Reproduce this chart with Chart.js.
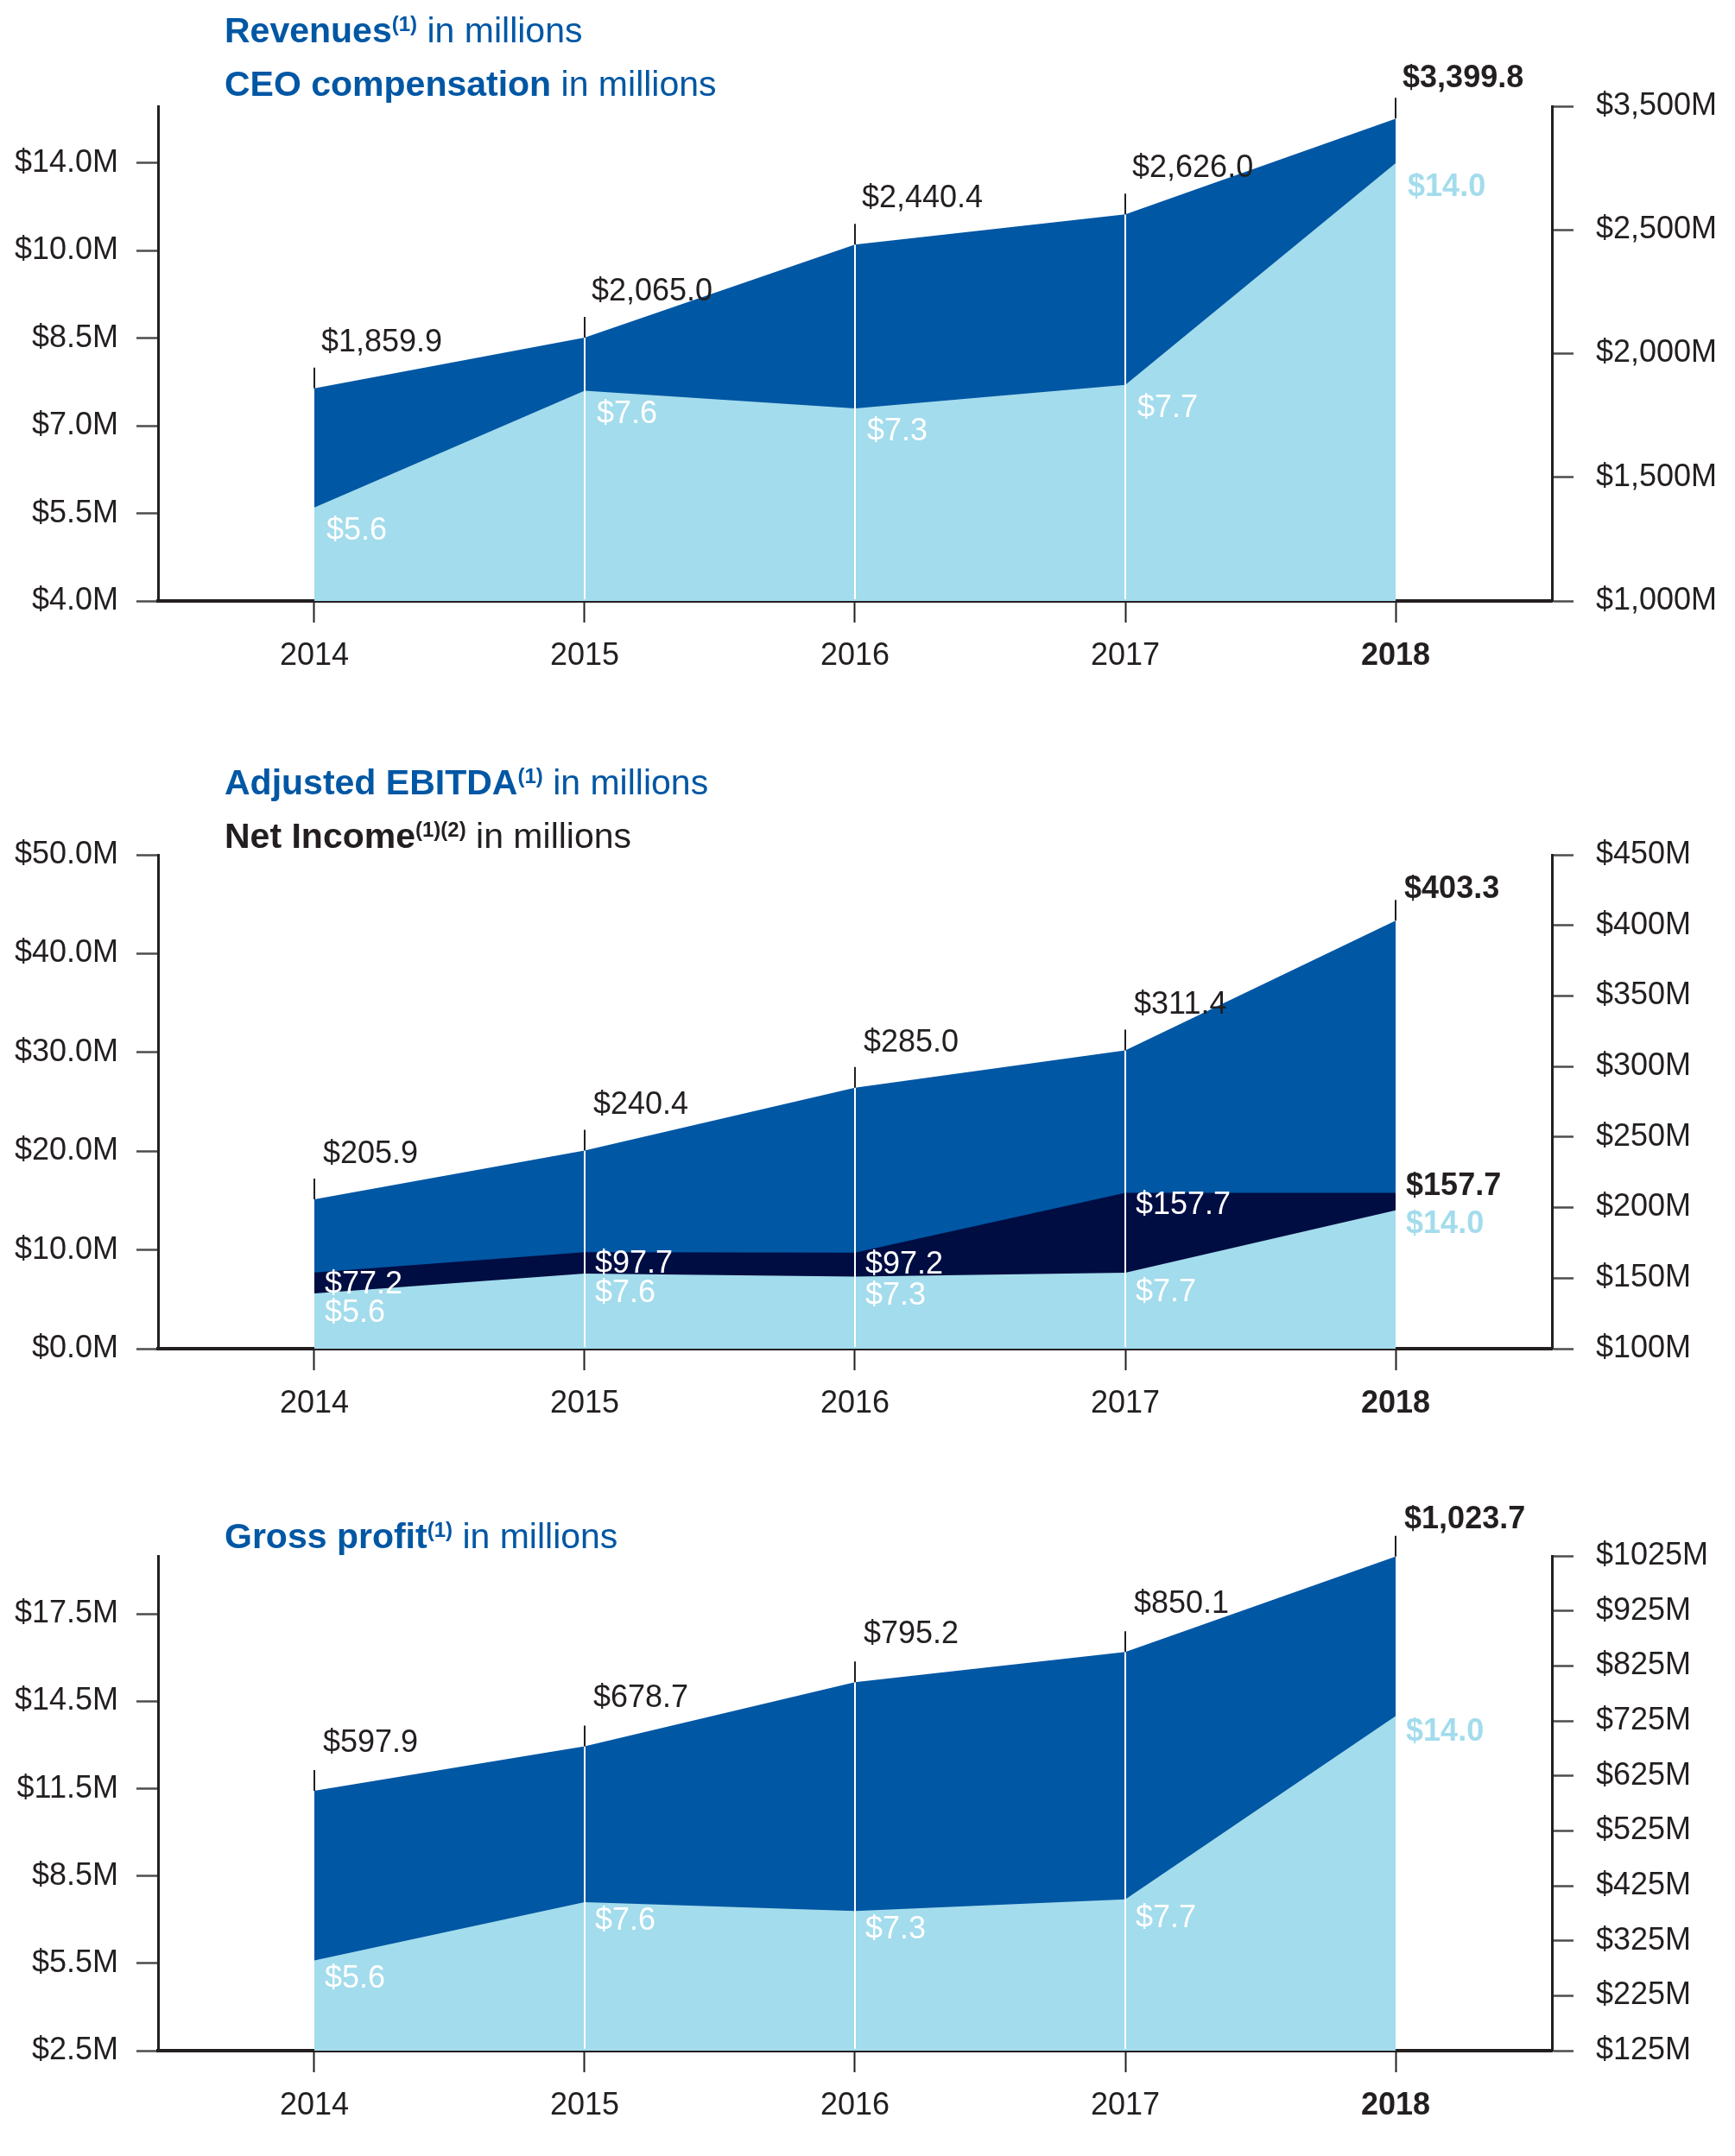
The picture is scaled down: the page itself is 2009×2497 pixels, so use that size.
<!DOCTYPE html>
<html><head><meta charset="utf-8">
<script src="https://cdn.jsdelivr.net/npm/chart.js@4.4.1/dist/chart.umd.min.js"></script>
<style>
html,body{margin:0;padding:0;background:#fff;}
#wrap{position:relative;width:2009px;height:2497px;overflow:hidden;font-family:'Liberation Sans',Arial,sans-serif;}
canvas{position:absolute;left:0;}
.title{position:absolute;left:260px;font-size:41px;line-height:41px;white-space:nowrap;color:#0057a4;z-index:2;}
.title b{font-weight:bold;}
.title sup{font-size:24px;font-weight:bold;vertical-align:baseline;position:relative;top:-13px;line-height:0;}
.dark{color:#231f20;}
</style></head>
<body><div id="wrap">
<canvas id="c1" width="2009" height="840" style="top:0"></canvas>
<canvas id="c2" width="2009" height="850" style="top:840px"></canvas>
<canvas id="c3" width="2009" height="807" style="top:1690px"></canvas>
<div class="title" style="top:15px"><b>Revenues</b><sup>(1)</sup> in millions</div>
<div class="title" style="top:77px"><b>CEO compensation</b> in millions</div>
<div class="title" style="top:886px"><b>Adjusted EBITDA</b><sup>(1)</sup> in millions</div>
<div class="title dark" style="top:948px"><b>Net Income</b><sup>(1)(2)</sup> in millions</div>
<div class="title" style="top:1759px"><b>Gross profit</b><sup>(1)</sup> in millions</div>
</div>
<script>
// ---------- DATA ----------
const years = ['2014', '2015', '2016', '2017', '2018'];
const revenue = [1859.9, 2065.0, 2440.4, 2626.0, 3399.8];
const ceoComp = [5.6, 7.6, 7.3, 7.7, 14.0];
const adjEbitda = [205.9, 240.4, 285.0, 311.4, 403.3];
const netIncome = [77.2, 97.7, 97.2, 157.7, 157.7];
const grossProfit = [597.9, 678.7, 795.2, 850.1, 1023.7];

const revLeftTicks = [4.0, 5.5, 7.0, 8.5, 10.0, 14.0];
const revRightTicks = [1000, 1500, 2000, 2500, 3500];
const ebitdaLeftTicks = [0, 10, 20, 30, 40, 50];
const ebitdaRightTicks = [100, 150, 200, 250, 300, 350, 400, 450];
const gpLeftTicks = [2.5, 5.5, 8.5, 11.5, 14.5, 17.5];
const gpRightTicks = [125, 225, 325, 425, 525, 625, 725, 825, 925, 1025];

// ---------- STYLE ----------
const C_DARKBLUE = '#0057a4';
const C_LIGHT = '#a3dcec';
const C_NAVY = '#000d42';
const C_TEXT = '#231f20';
const FONT = "'Liberation Sans', Arial, sans-serif";
Chart.defaults.font.family = FONT;

// piecewise scale for the unevenly labelled axes of the first chart
const PIECES = {
  yL: {breaks: revLeftTicks, span: 5.65},
  yR: {breaks: revRightTicks, span: 4}
};
class PiecewiseScale extends Chart.LinearScale {
  _toT(v) {
    const b = PIECES[this.id].breaks;
    if (v <= b[0]) return (v - b[0]) / (b[1] - b[0]);
    for (let i = 1; i < b.length; i++) {
      if (v <= b[i]) return i - 1 + (v - b[i - 1]) / (b[i] - b[i - 1]);
    }
    const n = b.length - 1;
    return n + (v - b[n]) / (b[n] - b[n - 1]);
  }
  _fromT(t) {
    const b = PIECES[this.id].breaks;
    const n = b.length - 1;
    if (t <= 0) return b[0] + t * (b[1] - b[0]);
    if (t >= n) return b[n] + (t - n) * (b[n] - b[n - 1]);
    const i = Math.floor(t);
    return b[i] + (t - i) * (b[i + 1] - b[i]);
  }
  getPixelForValue(v) {
    if (v === null || v === undefined || isNaN(v)) return NaN;
    return this.getPixelForDecimal(this._toT(v) / PIECES[this.id].span);
  }
  getValueForPixel(px) {
    return this._fromT(this.getDecimalForPixel(px) * PIECES[this.id].span);
  }
}
PiecewiseScale.id = 'piecewise';
PiecewiseScale.defaults = {};
Chart.register(PiecewiseScale);

const money1 = v => '$' + v.toLocaleString('en-US', {minimumFractionDigits: 1, maximumFractionDigits: 1});

// labels, white separators and stubs
const annot = {
  id: 'annot',
  afterDatasetsDraw(chart) {
    const ctx = chart.ctx, area = chart.chartArea, xs = chart.scales.x;
    const n = years.length;
    ctx.save();
    for (let i = 0; i < n; i++) {
      let top = Infinity;
      chart.data.datasets.forEach((ds, di) => {
        const el = chart.getDatasetMeta(di).data[i];
        if (el && el.y < top) top = el.y;
      });
      const x = Math.round(xs.getPixelForValue(i));
      if (i > 0 && i < n - 1) {
        ctx.strokeStyle = '#ffffff'; ctx.lineWidth = 2;
        ctx.beginPath(); ctx.moveTo(x, top); ctx.lineTo(x, area.bottom - 2); ctx.stroke();
      }
      ctx.strokeStyle = C_TEXT; ctx.lineWidth = 2;
      ctx.beginPath(); ctx.moveTo(x, top - 24); ctx.lineTo(x, top); ctx.stroke();
    }
    chart.data.datasets.forEach((ds, di) => {
      const L = ds.lbl; if (!L) return;
      const meta = chart.getDatasetMeta(di);
      ds.data.forEach((d, i) => {
        const el = meta.data[i];
        const last = i === n - 1;
        const bold = last && L.lastBold;
        ctx.font = (bold ? 'bold ' : '') + '36px ' + FONT;
        ctx.fillStyle = last && L.lastColor ? L.lastColor : L.color;
        ctx.textAlign = 'left'; ctx.textBaseline = 'middle';
        const dy = last && L.lastDy !== undefined ? L.lastDy : L.dy;
        ctx.fillText(money1(d.y), el.x + L.dx, el.y + dy);
      });
    });
    ctx.restore();
  }
};

function xAxis(h) {
  return {
    type: 'linear', min: -0.578, max: 4.578,
    afterBuildTicks: s => { s.ticks = years.map((_, i) => ({value: i})); },
    afterFit: s => { s.height = h; },
    grid: {drawOnChartArea: false, drawTicks: true, tickLength: 25, tickColor: C_TEXT, tickWidth: 2},
    border: {display: true, width: 4, color: C_TEXT},
    ticks: {
      callback: v => years[v], autoSkip: false, maxRotation: 0, minRotation: 0,
      color: C_TEXT, padding: 17,
      font: c => ({size: 36, weight: c.index === years.length - 1 ? 'bold' : 'normal'})
    }
  };
}
function yAxis(pos, tickArr, fmt, extra) {
  return Object.assign({
    position: pos,
    afterBuildTicks: s => { s.ticks = tickArr.map(v => ({value: v})); },
    afterFit: s => { s.width = pos === 'left' ? 183 : 212; },
    grid: {drawOnChartArea: false, drawTicks: true, tickLength: 25, tickColor: '#4d4d4f', tickWidth: 2.5},
    border: {display: true, width: 3, color: C_TEXT},
    ticks: {callback: v => fmt(v), color: C_TEXT, font: {size: 36}, padding: pos === 'left' ? 21 : 26, autoSkip: false}
  }, extra);
}
const pts = arr => arr.map((v, i) => ({x: i, y: v}));
function area(data, color, axis, lbl) {
  return {data: pts(data), yAxisID: axis, xAxisID: 'x', fill: 'start', backgroundColor: color,
    borderWidth: 0, borderColor: 'rgba(0,0,0,0)', pointRadius: 0, tension: 0, lbl};
}
function baseOpts(padTop, scales) {
  return {
    responsive: false, animation: false, devicePixelRatio: 1,
    layout: {padding: {top: padTop, left: 0, right: 0, bottom: 0}},
    plugins: {legend: {display: false}, tooltip: {enabled: false}},
    scales
  };
}

// ---------- CHART 1 ----------
new Chart(document.getElementById('c1'), {
  type: 'line',
  data: {datasets: [
    area(ceoComp, C_LIGHT, 'yL', {color: '#ffffff', dx: 14, dy: 27, lastColor: C_LIGHT, lastBold: true, lastDy: 28}),
    area(revenue, C_DARKBLUE, 'yR', {color: C_TEXT, dx: 8, dy: -53, lastBold: true, lastDy: -46})
  ]},
  options: baseOpts(123, {
    x: xAxis(144),
    yL: yAxis('left', revLeftTicks, v => '$' + v.toFixed(1) + 'M', {type: 'piecewise', min: 4, max: 16.6}),
    yR: yAxis('right', revRightTicks, v => '$' + v.toLocaleString('en-US') + 'M', {type: 'piecewise', min: 1000, max: 3500})
  }),
  plugins: [annot]
});

// ---------- CHART 2 ----------
new Chart(document.getElementById('c2'), {
  type: 'line',
  data: {datasets: [
    area(ceoComp, C_LIGHT, 'yL', {color: '#ffffff', dx: 12, dy: 23, lastColor: C_LIGHT, lastBold: true, lastDy: 16}),
    area(netIncome, C_NAVY, 'yN', {color: '#ffffff', dx: 12, dy: 14, lastColor: C_TEXT, lastBold: true, lastDy: -8}),
    area(adjEbitda, C_DARKBLUE, 'yR', {color: C_TEXT, dx: 10, dy: -52, lastBold: true, lastDy: -36})
  ]},
  options: baseOpts(150, {
    x: xAxis(128),
    yL: yAxis('left', ebitdaLeftTicks, v => '$' + v.toFixed(1) + 'M', {type: 'linear', min: 0, max: 50}),
    yR: yAxis('right', ebitdaRightTicks, v => '$' + v + 'M', {type: 'linear', min: 100, max: 450}),
    yN: {type: 'linear', display: false, min: 0, max: 500}
  }),
  plugins: [annot]
});

// ---------- CHART 3 ----------
new Chart(document.getElementById('c3'), {
  type: 'line',
  data: {datasets: [
    area(ceoComp, C_LIGHT, 'yL', {color: '#ffffff', dx: 12, dy: 22, lastColor: C_LIGHT, lastBold: true, lastDy: 19}),
    area(grossProfit, C_DARKBLUE, 'yR', {color: C_TEXT, dx: 10, dy: -55, lastBold: true, lastDy: -43})
  ]},
  options: baseOpts(112, {
    x: xAxis(122),
    yL: yAxis('left', gpLeftTicks, v => '$' + v.toFixed(1) + 'M', {type: 'linear', min: 2.5, max: 19.5}),
    yR: yAxis('right', gpRightTicks, v => '$' + v + 'M', {type: 'linear', min: 125, max: 1025})
  }),
  plugins: [annot]
});
</script>
</body></html>
